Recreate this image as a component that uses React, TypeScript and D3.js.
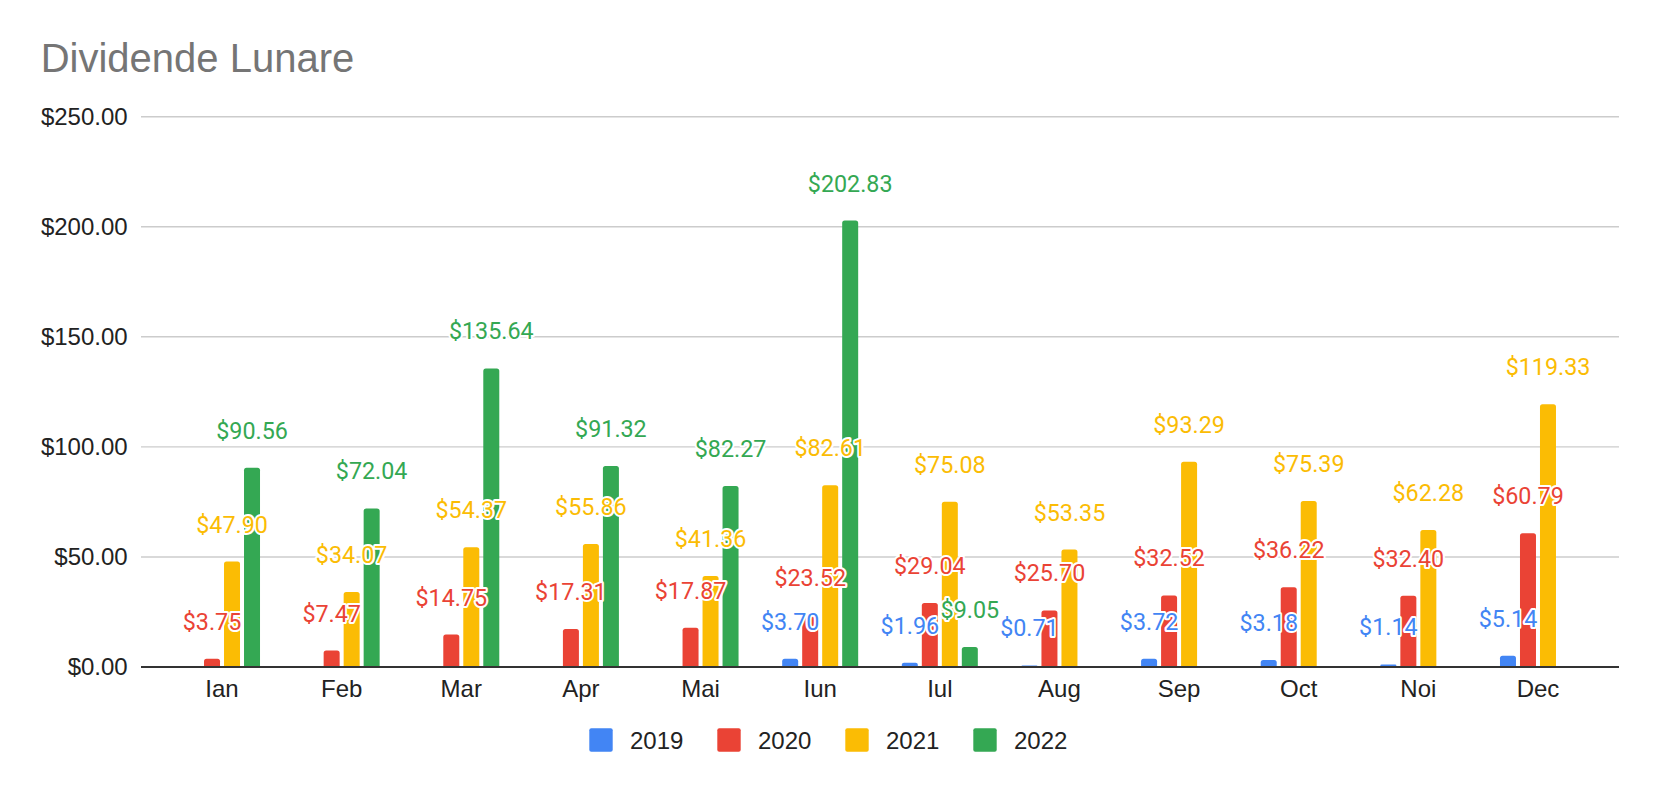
import * as d3 from 'd3';
import { useRef, useEffect } from 'react';

const months = ['Ian', 'Feb', 'Mar', 'Apr', 'Mai', 'Iun', 'Iul', 'Aug', 'Sep', 'Oct', 'Noi', 'Dec'];
const years = ['2019', '2020', '2021', '2022'];
const colors = ['#4285F4', '#EA4335', '#FBBC04', '#34A853'];

const values2019 = [null, null, null, null, null, 3.70, 1.96, 0.71, 3.72, 3.18, 1.14, 5.14];
const values2020 = [3.75, 7.47, 14.75, 17.31, 17.87, 23.52, 29.04, 25.70, 32.52, 36.22, 32.40, 60.79];
const values2021 = [47.90, 34.07, 54.37, 55.86, 41.36, 82.61, 75.08, 53.35, 93.29, 75.39, 62.28, 119.33];
const values2022 = [90.56, 72.04, 135.64, 91.32, 82.27, 202.83, 9.05, null, null, null, null, null];

const yTicks = [0, 50, 100, 150, 200, 250];

interface Cell {
    month: string;
    year: string;
    value: number;
    color: string;
}

const W = 1658, H = 792;

const DividendChart = () => {
    const ref = useRef<SVGSVGElement>(null);

    useEffect(() => {
        if (!ref.current) return;
        const svg = d3.select(ref.current);
        svg.selectAll("*").remove();

        const series = [values2019, values2020, values2021, values2022];
        const cells: Cell[] = [];
        months.forEach((m, i) => {
            years.forEach((y, j) => {
                const v = series[j][i];
                if (v !== null) cells.push({ month: m, year: y, value: v, color: colors[j] });
            });
        });

        const plotLeft = 141, plotRight = 1619;
        const xScale = d3.scaleBand<string>().domain(months).range([162.2, 1597.8]).padding(0);
        const inner = d3.scaleBand<string>().domain(years).range([-38, 38]).paddingInner(0.2);
        const yScale = d3.scaleLinear().domain([0, 250]).range([667, 116.7]);
        const cx = (m: string) => xScale(m)! + xScale.bandwidth() / 2;

        // title
        svg.append("text")
            .attr("x", 40.7)
            .attr("y", 71.7)
            .attr("font-family", "Arial, 'Liberation Sans', sans-serif")
            .attr("font-size", 40)
            .attr("fill", "#757575")
            .text("Dividende Lunare");

        // gridlines + y labels
        const grid = svg.append("g");
        grid.selectAll("line")
            .data(yTicks.filter(t => t > 0))
            .enter().append("line")
            .attr("x1", plotLeft).attr("x2", plotRight)
            .attr("y1", d => yScale(d)).attr("y2", d => yScale(d))
            .attr("stroke", "#cccccc")
            .attr("stroke-width", 1.4);

        grid.selectAll("text")
            .data(yTicks)
            .enter().append("text")
            .attr("x", 127.7)
            .attr("y", d => yScale(d) + 8.4)
            .attr("text-anchor", "end")
            .attr("font-family", "Arial, 'Liberation Sans', sans-serif")
            .attr("font-size", 24)
            .attr("fill", "#222222")
            .text(d => "$" + d3.format(".2f")(d));

        // bars, rounded on top
        const bw = inner.bandwidth();
        const r = 2.5;
        svg.append("g").selectAll("path")
            .data(cells)
            .enter().append("path")
            .attr("fill", d => d.color)
            .attr("d", d => {
                const x0 = cx(d.month) + inner(d.year)!;
                const x1 = x0 + bw;
                const y0 = yScale(0);
                const y1 = yScale(d.value);
                const rr = Math.min(r, (y0 - y1) / 2);
                return `M${x0},${y0}V${y1 + rr}Q${x0},${y1} ${x0 + rr},${y1}H${x1 - rr}Q${x1},${y1} ${x1},${y1 + rr}V${y0}Z`;
            });

        // baseline
        svg.append("line")
            .attr("x1", plotLeft).attr("x2", plotRight)
            .attr("y1", yScale(0)).attr("y2", yScale(0))
            .attr("stroke", "#333333")
            .attr("stroke-width", 2);

        // x labels
        svg.append("g").selectAll("text")
            .data(months)
            .enter().append("text")
            .attr("x", d => cx(d))
            .attr("y", 696.7)
            .attr("text-anchor", "middle")
            .attr("font-family", "Arial, 'Liberation Sans', sans-serif")
            .attr("font-size", 24)
            .attr("fill", "#222222")
            .text(d => d);

        // data labels with white halo
        svg.append("g").selectAll("text")
            .data(cells)
            .enter().append("text")
            .attr("x", d => cx(d.month) + inner(d.year)! + bw / 2)
            .attr("y", d => yScale(d.value) - 29)
            .attr("text-anchor", "middle")
            .attr("font-family", "Roboto, sans-serif")
            .attr("font-size", 23.3)
            .attr("fill", d => d.color)
            .attr("stroke", "#ffffff")
            .attr("stroke-width", 4)
            .attr("stroke-linejoin", "round")
            .attr("paint-order", "stroke")
            .text(d => "$" + d3.format(".2f")(d.value));

        // legend
        const legend = svg.append("g").selectAll("g")
            .data(years)
            .enter().append("g")
            .attr("transform", (d, i) => "translate(" + (589.3 + i * 128) + ",728.3)");
        legend.append("rect")
            .attr("width", 23.4).attr("height", 23.4)
            .attr("rx", 2)
            .attr("fill", (d, i) => colors[i]);
        legend.append("text")
            .attr("x", 40.7)
            .attr("y", 20.2)
            .attr("font-family", "Arial, 'Liberation Sans', sans-serif")
            .attr("font-size", 24)
            .attr("fill", "#222222")
            .text(d => d);
    }, []);

    return (<svg ref={ref} width={W} height={H} style={{ position: 'absolute', left: 0, top: 0, background: '#ffffff' }}></svg>);
};

export default function App() {
    return <DividendChart />;
}
